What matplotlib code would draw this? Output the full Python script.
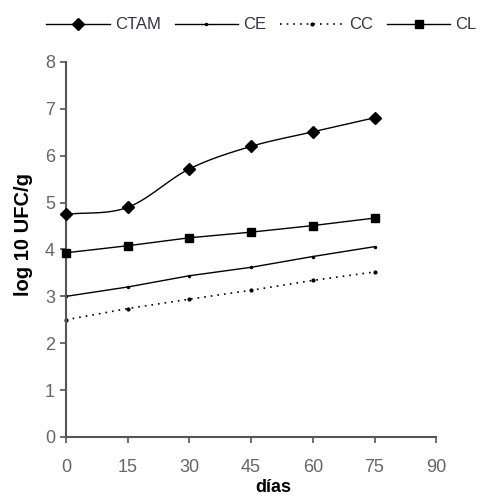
import matplotlib
matplotlib.use("Agg")
import matplotlib.pyplot as plt
import numpy as np

plt.rcParams["font.family"] = ["Liberation Sans", "DejaVu Sans"]

dias = [0, 15, 30, 45, 60, 75]
ctam = [4.75, 4.90, 5.72, 6.20, 6.51, 6.81]
ce   = [3.00, 3.20, 3.44, 3.62, 3.85, 4.06]
cc   = [2.50, 2.74, 2.94, 3.13, 3.34, 3.52]
cl   = [3.93, 4.08, 4.25, 4.37, 4.51, 4.67]


def smooth(x, y, n=20):
    # Catmull-Rom curve through the points, like Excel's smoothed line
    x = np.asarray(x, float)
    y = np.asarray(y, float)
    px = np.concatenate([[2 * x[0] - x[1]], x, [2 * x[-1] - x[-2]]])
    py = np.concatenate([[2 * y[0] - y[1]], y, [2 * y[-1] - y[-2]]])
    xs, ys = [], []
    t = np.linspace(0, 1, n)
    for i in range(1, len(px) - 2):
        for p, out in ((px, xs), (py, ys)):
            p0, p1, p2, p3 = p[i - 1], p[i], p[i + 1], p[i + 2]
            out.extend(0.5 * ((2 * p1) + (-p0 + p2) * t
                              + (2 * p0 - 5 * p1 + 4 * p2 - p3) * t ** 2
                              + (-p0 + 3 * p1 - 3 * p2 + p3) * t ** 3))
    return xs, ys


fig = plt.figure(figsize=(4.82, 4.96), dpi=100)
ax = fig.add_axes([0.137, 0.119, 0.768, 0.756])

sx, sy = smooth(dias, ctam)
ax.plot(sx, sy, color="black", lw=1, clip_on=False)
ax.plot(dias, ctam, ls="none", marker="D", ms=6, color="black", clip_on=False, zorder=3)
h1, = ax.plot([], [], color="black", lw=1, marker="D", ms=6)
h2, = ax.plot(dias, ce, color="black", lw=1, marker=".", ms=3, clip_on=False)
h3, = ax.plot(dias, cc, color="black", lw=1.2, ls=(0, (1, 3)), marker=".", ms=4, clip_on=False)
h4, = ax.plot(dias, cl, color="black", lw=1, marker="s", ms=6, clip_on=False, zorder=3)

ax.set_xlim(0, 90)
ax.set_ylim(0, 8)
ax.set_xticks(range(0, 91, 15))
ax.set_yticks(range(0, 9))
for s in ("top", "right"):
    ax.spines[s].set_visible(False)
for s in ("left", "bottom"):
    ax.spines[s].set_color("#555555")
    ax.spines[s].set_linewidth(1.5)
ax.tick_params(direction="out", length=4, width=1.2, color="#555555",
               labelcolor="#666666", labelsize=13)
ax.tick_params(axis="x", pad=12)
ax.tick_params(axis="y", pad=4)
ax.set_xlabel("días", fontsize=13, fontweight="bold")
ax.xaxis.set_label_coords(0.56, -0.112)
ax.set_ylabel("log 10 UFC/g", fontsize=14.5, fontweight="bold", va="center")
ax.yaxis.set_label_coords(-0.114, 0.54)

fig.legend([h1, h2, h3, h4], ["CTAM", "CE", "CC", "CL"], loc="upper center",
           bbox_to_anchor=(0.5425, 0.995), ncol=4, frameon=False, fontsize=12,
           labelcolor="#333344", handlelength=3.8, handletextpad=0.3,
           columnspacing=0.85)

plt.savefig("out.png", dpi=100)
